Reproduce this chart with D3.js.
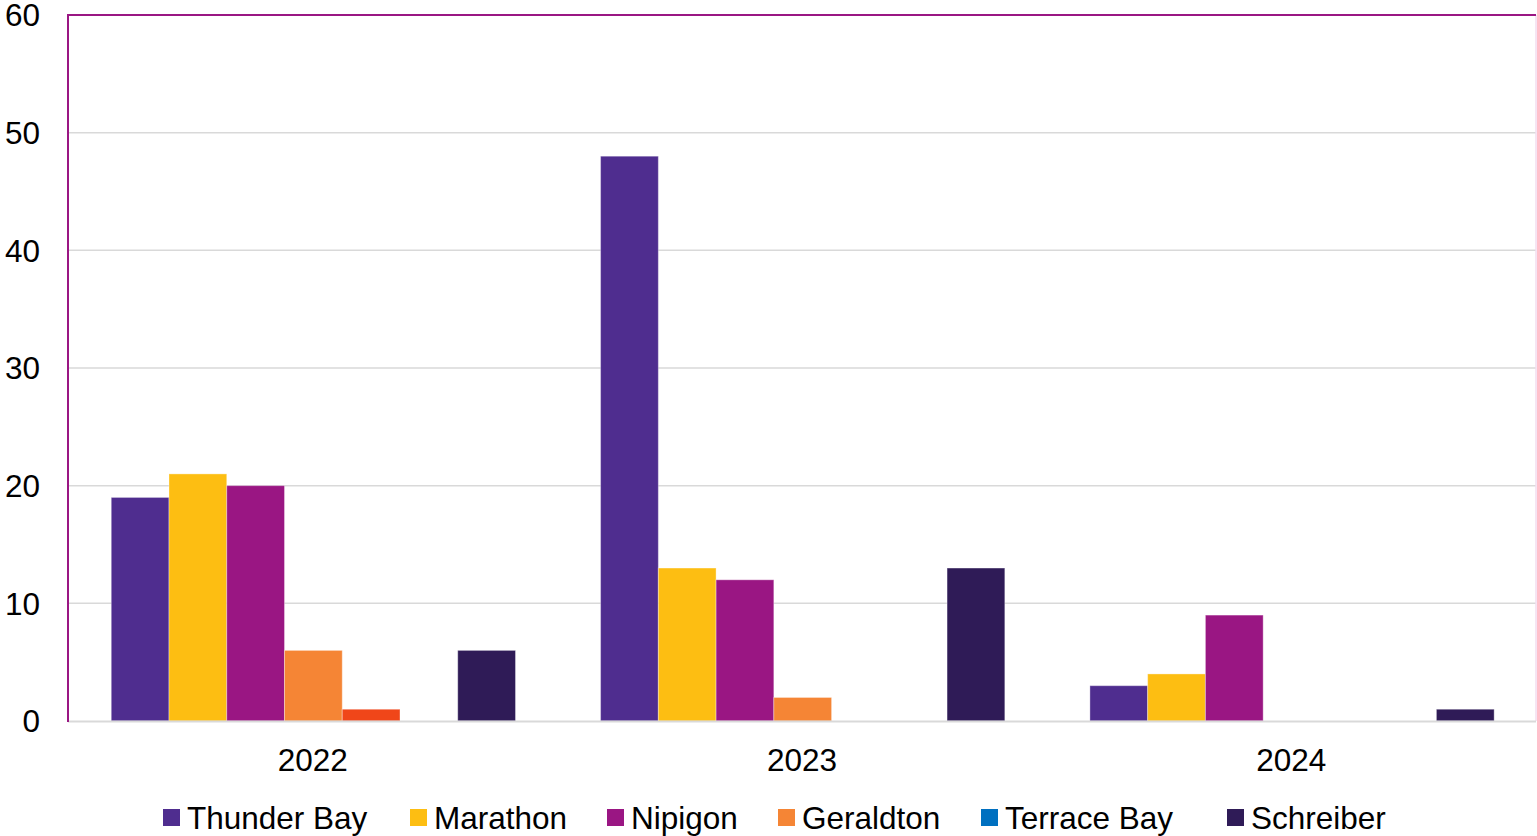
<!DOCTYPE html>
<html>
<head>
<meta charset="utf-8">
<script src="https://cdn.jsdelivr.net/npm/d3@7"></script>
<style>
  body { margin: 0; background: #fff; }
  text { font-family: "Liberation Sans", Arial, sans-serif; fill: #000; }
</style>
</head>
<body>
<div id="chart"></div>
<script>
// data
var years = ["2022", "2023", "2024"];
var series = ["Thunder Bay", "Marathon", "Nipigon", "Geraldton", "Terrace Bay", "Schreiber"];
var thunderBay = [19, 48, 3];
var marathon = [21, 13, 4];
var nipigon = [20, 12, 9];
var geraldton = [6, 2, 0];
var terraceBay = [1, 0, 0];
var schreiber = [6, 13, 1];
var yTicks = [0, 10, 20, 30, 40, 50, 60];

var values = [thunderBay, marathon, nipigon, geraldton, terraceBay, schreiber];
var colors = ["#4f2d8f", "#fdbe12", "#9a1683", "#f58535", "#0070c0", "#2f1b57"];
// the 2022 Terrace Bay bar is drawn in a different colour in the original
var pointColor = { "Terrace Bay|2022": "#f04619" };
// slot order inside each group, one slot is left empty
var slots = ["Thunder Bay", "Marathon", "Nipigon", "Geraldton", "Terrace Bay", "_blank", "Schreiber"];

var W = 1537, H = 836;
var margin = {top: 15, right: 1, bottom: 115, left: 68};
var width = W - margin.left - margin.right,
    height = H - margin.top - margin.bottom;

var svg = d3.select("#chart").append("svg")
    .attr("width", W)
    .attr("height", H);

var g = svg.append("g")
    .attr("transform", "translate(" + margin.left + "," + margin.top + ")");

var x0 = d3.scaleBand().domain(years).range([0, width]).paddingInner(0).paddingOuter(0);
var x1 = d3.scaleBand().domain(slots).range([0, x0.bandwidth()]).paddingInner(0).paddingOuter(0.7368);
var y = d3.scaleLinear().domain([0, 60]).range([height, 0]);

// gridlines
g.append("g").selectAll("line")
    .data(yTicks.filter(function(d){ return d > 0 && d < 60; }))
    .enter().append("line")
    .attr("x1", 0).attr("x2", width)
    .attr("y1", function(d){ return y(d); })
    .attr("y2", function(d){ return y(d); })
    .attr("stroke", "#d9d9d9")
    .attr("stroke-width", 1.5);

// bars
var bars = [];
series.forEach(function(s, si){
  years.forEach(function(yr, yi){
    bars.push({series: s, year: yr, value: values[si][yi], color: pointColor[s + "|" + yr] || colors[si]});
  });
});

g.append("g").selectAll("rect")
    .data(bars.filter(function(d){ return d.value > 0; }))
    .enter().append("rect")
    .attr("x", function(d){ return x0(d.year) + x1(d.series) + 0.7; })
    .attr("y", function(d){ return y(d.value); })
    .attr("width", x1.bandwidth())
    .attr("height", function(d){ return y(0) - y(d.value); })
    .attr("fill", function(d){ return d.color; })
    .attr("stroke", "#ffffff")
    .attr("stroke-opacity", 0.35)
    .attr("stroke-width", 1);

// plot border: purple top/left, faint right
g.append("line").attr("x1", width).attr("x2", width).attr("y1", 0).attr("y2", height)
    .attr("stroke", "#f3dcef").attr("stroke-width", 1.5);
g.append("line").attr("x1", 0).attr("x2", width).attr("y1", height + 0.5).attr("y2", height + 0.5)
    .attr("stroke", "#d9d9d9").attr("stroke-width", 2);
g.append("line").attr("x1", 0).attr("x2", width).attr("y1", 0).attr("y2", 0)
    .attr("stroke", "#9a1683").attr("stroke-width", 2);
g.append("line").attr("x1", 0).attr("x2", 0).attr("y1", -1).attr("y2", height + 1)
    .attr("stroke", "#9a1683").attr("stroke-width", 2);

// y tick labels
g.append("g").selectAll("text")
    .data(yTicks)
    .enter().append("text")
    .attr("x", -28)
    .attr("y", function(d){ return y(d); })
    .attr("dy", "0.36em")
    .attr("text-anchor", "end")
    .style("font-size", "31.5px")
    .text(function(d){ return d; });

// x labels
g.append("g").selectAll("text")
    .data(years)
    .enter().append("text")
    .attr("x", function(d){ return x0(d) + x0.bandwidth() / 2; })
    .attr("y", height + 50)
    .attr("text-anchor", "middle")
    .style("font-size", "31.5px")
    .text(function(d){ return d; });

// legend, item offsets taken from the original layout
var legendX = [163, 410, 607, 778, 981, 1227];
var legend = svg.append("g").attr("transform", "translate(0,809)");
series.forEach(function(s, i){
  var item = legend.append("g").attr("transform", "translate(" + legendX[i] + ",0)");
  item.append("rect").attr("width", 17).attr("height", 17).attr("fill", colors[i]);
  item.append("text").attr("x", 24).attr("y", 19.5)
      .style("font-size", "31.5px").text(s);
});
</script>
</body>
</html>
